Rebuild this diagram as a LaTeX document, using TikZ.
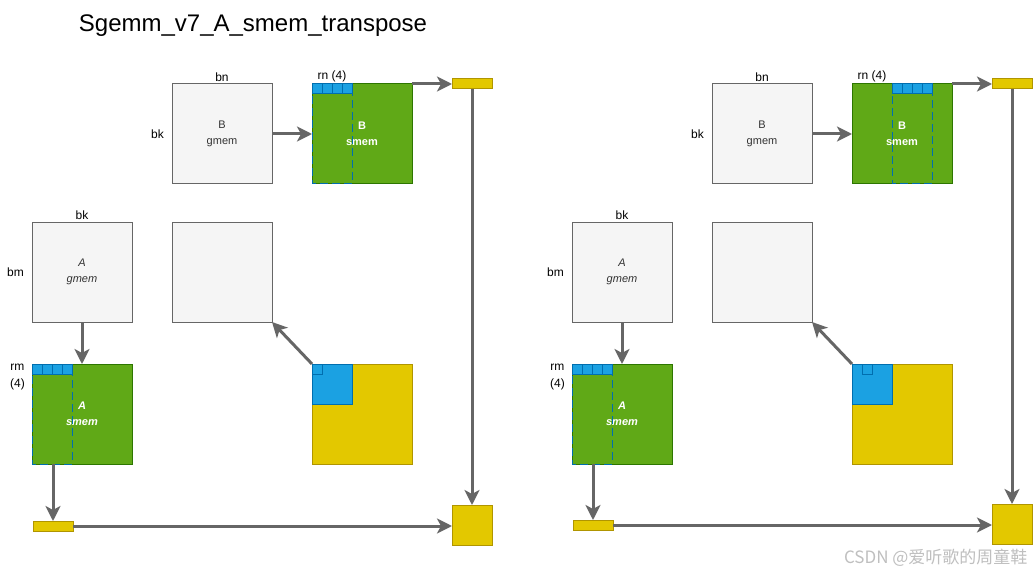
\documentclass[tikz,border=0pt]{standalone}
\usepackage{fontspec}
\setmainfont{Liberation Sans}
\newfontfamily\cjkfont{Noto Sans CJK SC}
\usetikzlibrary{arrows.meta,positioning,calc}
\definecolor{gmemfill}{HTML}{F5F5F5}
\definecolor{gmemline}{HTML}{666666}
\definecolor{smemgreen}{HTML}{60A917}
\definecolor{smemline}{HTML}{2D7600}
\definecolor{regblue}{HTML}{1BA1E2}
\definecolor{regline}{HTML}{006EAF}
\definecolor{accyellow}{HTML}{E3C800}
\definecolor{accline}{HTML}{B09500}
\definecolor{flowgray}{HTML}{666666}
\definecolor{textgray}{HTML}{333333}

\begin{document}
\begin{tikzpicture}[
  x=1pt, y=-1pt,
  font=\fontsize{11}{16}\selectfont,
  tile/.style={
    draw=gmemline,
    fill=gmemfill,
    line width=1pt,
    minimum width=100pt,
    minimum height=100pt,
    inner sep=0pt,
    outer sep=0pt,
    align=center,
    text=textgray
  },
  italic/.style={font=\fontsize{11}{16}\selectfont\itshape},
  smem/.style={tile, draw=smemline, fill=smemgreen, text=white, font=\fontsize{11}{16}\selectfont\bfseries},
  acc/.style={tile, draw=accline, fill=accyellow},
  bar/.style={draw=accline, fill=accyellow, line width=1pt, minimum width=40pt, minimum height=10pt, inner sep=0pt, outer sep=0pt},
  outbox/.style={bar, minimum height=40pt},
  cell/.style={draw=regline, fill=regblue, line width=1pt},
  strip/.style={draw=regline, line width=1pt, dash pattern=on 8pt off 4pt},
  flow/.style={draw=flowgray, line width=3pt, -{Stealth[length=15pt,width=15pt,inset=4pt]}},
  dim/.style={text=black, inner sep=1pt, font=\fontsize{12}{17}\selectfont}
]

  \path[use as bounding box, fill=white] (0,0) rectangle (1034,575);

  % Title
  \node[font=\fontsize{24}{28}\selectfont] (title) at (253,26) {Sgemm\_v7\_A\_smem\_transpose};

  % --- LEFT PANEL ---
  \node[tile] (Bg) at (222,134) {B\\gmem};
  \node[smem, right=40pt of Bg] (Bs) {B\\smem};
  \node[bar, right=40pt of Bs.north east, anchor=west] (Bbar) {};
  \node[tile, italic] (Ag) at (82,272) {A\\gmem};
  \node[tile, right=40pt of Ag] (Cg) {};
  \node[smem, below=42pt of Ag, font=\fontsize{11}{16}\selectfont\bfseries\itshape] (As) {A\\smem};
  \node[acc, right=180pt of As] (Cr) {};
  \node[bar] (Abar) at (53,526) {};
  \node[outbox] (Cout) at (472,525) {};

  % register strips and tiles
  \draw[strip] (Bs.north west) rectangle ++(40,100);
  \draw[strip] (As.north west) rectangle ++(40,100);
  \foreach \i in {0,...,3} {
    \draw[cell] ($(Bs.north west)+(10*\i,0)$) rectangle ++(10,10);
    \draw[cell] ($(As.north west)+(10*\i,0)$) rectangle ++(10,10);
  }
  \draw[cell] (Cr.north west) rectangle ++(40,40);
  \draw[cell] (Cr.north west) rectangle ++(10,10);

  % dimension labels
  \node[dim, above=1pt of Bg] {bn};
  \node[dim, left=7pt of Bg] {bk};
  \node[dim, above=1pt] at ($(Bs.north west)+(20,0)$) {rn (4)};
  \node[dim, above=1pt of Ag] {bk};
  \node[dim, left=7pt of Ag] {bm};
  \node[dim, align=center, anchor=north east] at ($(As.north west)+(-6,-1)$) {rm\\(4)};

  \draw[flow] (Bg.east) -- (Bs.west);
  \draw[flow] (Bs.north east) -- (Bbar.west);
  \draw[flow] (Bbar.south) -- (Cout.north);
  \draw[flow] (Ag.south) -- (As.north);
  \draw[flow] (Abar.north |- As.south) -- (Abar.north);
  \draw[flow] (Abar.east) -- (Abar.east -| Cout.west);
  \draw[flow] (Cr.north west) -- (Cg.south east);

  % --- RIGHT PANEL ---
  \node[tile] (Bg2) at (762,134) {B\\gmem};
  \node[smem, right=40pt of Bg2] (Bs2) {B\\smem};
  \node[bar, right=40pt of Bs2.north east, anchor=west] (Bbar2) {};
  \node[tile, italic] (Ag2) at (622,272) {A\\gmem};
  \node[tile, right=40pt of Ag2] (Cg2) {};
  \node[smem, below=42pt of Ag2, font=\fontsize{11}{16}\selectfont\bfseries\itshape] (As2) {A\\smem};
  \node[acc, right=180pt of As2] (Cr2) {};
  \node[bar] (Abar2) at (593,525) {};
  \node[outbox] (Cout2) at (1012,524) {};

  \draw[strip] ($(Bs2.north west)+(40,0)$) rectangle ++(40,100);
  \draw[strip] (As2.north west) rectangle ++(40,100);
  \foreach \i in {0,...,3} {
    \draw[cell] ($(Bs2.north west)+(40+10*\i,0)$) rectangle ++(10,10);
    \draw[cell] ($(As2.north west)+(10*\i,0)$) rectangle ++(10,10);
  }
  \draw[cell] (Cr2.north west) rectangle ++(40,40);
  \draw[cell] ($(Cr2.north west)+(10,0)$) rectangle ++(10,10);

  \node[dim, above=1pt of Bg2] {bn};
  \node[dim, left=7pt of Bg2] {bk};
  \node[dim, above=1pt] at ($(Bs2.north west)+(20,0)$) {rn (4)};
  \node[dim, above=1pt of Ag2] {bk};
  \node[dim, left=7pt of Ag2] {bm};
  \node[dim, align=center, anchor=north east] at ($(As2.north west)+(-6,-1)$) {rm\\(4)};

  \draw[flow] (Bg2.east) -- (Bs2.west);
  \draw[flow] (Bs2.north east) -- (Bbar2.west);
  \draw[flow] (Bbar2.south) -- (Cout2.north);
  \draw[flow] (Ag2.south) -- (As2.north);
  \draw[flow] (Abar2.north |- As2.south) -- (Abar2.north);
  \draw[flow] (Abar2.east) -- (Abar2.east -| Cout2.west);
  \draw[flow] (Cr2.north west) -- (Cg2.south east);

  % watermark
  \node[text=gray!50, font=\cjkfont\fontsize{17}{20}\selectfont, anchor=south east] (mark) at (1031,570) {CSDN @爱听歌的周童鞋};

\end{tikzpicture}
\end{document}
